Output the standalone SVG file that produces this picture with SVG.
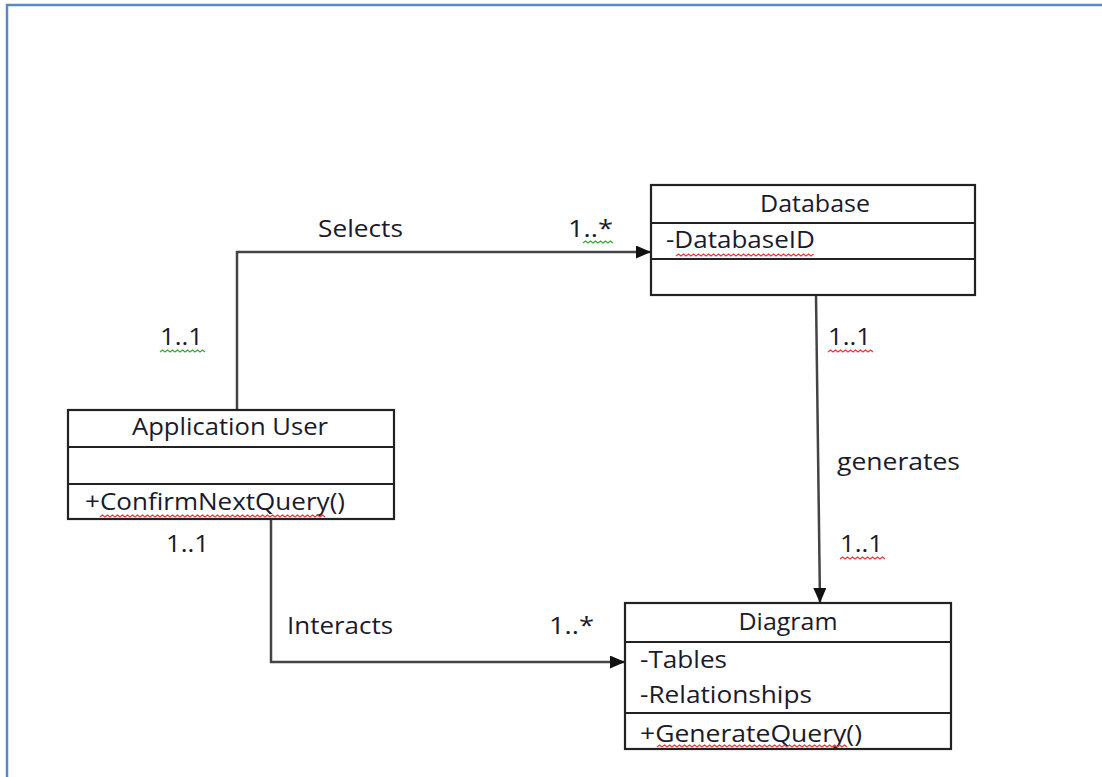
<svg xmlns="http://www.w3.org/2000/svg" width="1102" height="777" viewBox="0 0 1102 777">
<style>
.box{fill:#fff;stroke:#222;stroke-width:2.2}
.sep{stroke:#222;stroke-width:2.2}
.t{font-family:"Open Sans","Liberation Sans",sans-serif;font-size:23px;fill:#1a1a2a}
.c{text-anchor:middle}
.edge{fill:none;stroke:#444;stroke-width:2.5}
.sqr{fill:none;stroke:#e33;stroke-width:1.2}
.sqg{fill:none;stroke:#3a3;stroke-width:1.2}
</style>
<defs>
<marker id="arr" viewBox="0 0 15 13" refX="15" refY="6.5" markerWidth="15" markerHeight="13" markerUnits="userSpaceOnUse" orient="auto">
<path d="M0,0 L15,6.5 L0,13 Z" fill="#111"/>
</marker>
</defs>
<rect width="1102" height="777" fill="#fff"/>
<path d="M7,777 L7,5 L1102,5" fill="none" stroke="#5b87c5" stroke-width="2.5"/>

<g id="connectors">
<g id="selects">
<path class="edge" d="M237,410 L237,252 L651,252" marker-end="url(#arr)"/>
<text class="t" x="318" y="237" textLength="85" lengthAdjust="spacingAndGlyphs">Selects</text>
<text class="t" x="568" y="237" textLength="45" lengthAdjust="spacingAndGlyphs">1..*</text>
<path class="sqg" d="M583,243 l2.5,-2 l2.5,2 l2.5,-2 l2.5,2 l2.5,-2 l2.5,2 l2.5,-2 l2.5,2 l2.5,-2 l2.5,2 l2.5,-2 l2.5,2"/>
<text class="t" x="160" y="345" textLength="43" lengthAdjust="spacingAndGlyphs">1..1</text>
<path class="sqg" d="M160,352 l2.5,-2 l2.5,2 l2.5,-2 l2.5,2 l2.5,-2 l2.5,2 l2.5,-2 l2.5,2 l2.5,-2 l2.5,2 l2.5,-2 l2.5,2 l2.5,-2 l2.5,2 l2.5,-2 l2.5,2 l2.5,-2 l2.5,2"/>
</g>
<g id="generates">
<path class="edge" d="M816,295 L820,603" marker-end="url(#arr)"/>
<text class="t" x="828" y="345" textLength="43" lengthAdjust="spacingAndGlyphs">1..1</text>
<path class="sqr" d="M828,352 l2.5,-2 l2.5,2 l2.5,-2 l2.5,2 l2.5,-2 l2.5,2 l2.5,-2 l2.5,2 l2.5,-2 l2.5,2 l2.5,-2 l2.5,2 l2.5,-2 l2.5,2 l2.5,-2 l2.5,2 l2.5,-2 l2.5,2"/>
<text class="t" x="837" y="470" textLength="123" lengthAdjust="spacingAndGlyphs">generates</text>
<text class="t" x="840" y="552" textLength="43" lengthAdjust="spacingAndGlyphs">1..1</text>
<path class="sqr" d="M840,559 l2.5,-2 l2.5,2 l2.5,-2 l2.5,2 l2.5,-2 l2.5,2 l2.5,-2 l2.5,2 l2.5,-2 l2.5,2 l2.5,-2 l2.5,2 l2.5,-2 l2.5,2 l2.5,-2 l2.5,2 l2.5,-2 l2.5,2"/>
</g>
<g id="interacts">
<path class="edge" d="M271,519 L271,662 L625,662" marker-end="url(#arr)"/>
<text class="t" x="166" y="552" textLength="43" lengthAdjust="spacingAndGlyphs">1..1</text>
<text class="t" x="287" y="634" textLength="106" lengthAdjust="spacingAndGlyphs">Interacts</text>
<text class="t" x="549" y="634" textLength="45" lengthAdjust="spacingAndGlyphs">1..*</text>
</g>
</g>

<g id="database">
<rect class="box" x="651" y="185" width="324" height="110"/>
<line class="sep" x1="651" y1="223" x2="975" y2="223"/>
<line class="sep" x1="651" y1="259" x2="975" y2="259"/>
<text class="t c" x="815" y="212" textLength="110" lengthAdjust="spacingAndGlyphs">Database</text>
<text class="t" x="666" y="248" textLength="149" lengthAdjust="spacingAndGlyphs">-DatabaseID</text>
<path class="sqr" d="M676,256 l2.5,-2 l2.5,2 l2.5,-2 l2.5,2 l2.5,-2 l2.5,2 l2.5,-2 l2.5,2 l2.5,-2 l2.5,2 l2.5,-2 l2.5,2 l2.5,-2 l2.5,2 l2.5,-2 l2.5,2 l2.5,-2 l2.5,2 l2.5,-2 l2.5,2 l2.5,-2 l2.5,2 l2.5,-2 l2.5,2 l2.5,-2 l2.5,2 l2.5,-2 l2.5,2 l2.5,-2 l2.5,2 l2.5,-2 l2.5,2 l2.5,-2 l2.5,2 l2.5,-2 l2.5,2 l2.5,-2 l2.5,2 l2.5,-2 l2.5,2 l2.5,-2 l2.5,2 l2.5,-2 l2.5,2 l2.5,-2 l2.5,2 l2.5,-2 l2.5,2 l2.5,-2 l2.5,2 l2.5,-2 l2.5,2 l2.5,-2 l2.5,2 l2.5,-2"/>
</g>

<g id="application-user">
<rect class="box" x="68" y="410" width="326" height="109"/>
<line class="sep" x1="68" y1="447" x2="394" y2="447"/>
<line class="sep" x1="68" y1="484" x2="394" y2="484"/>
<text class="t c" x="230" y="435" textLength="196" lengthAdjust="spacingAndGlyphs">Application User</text>
<text class="t" x="85" y="510" textLength="260" lengthAdjust="spacingAndGlyphs">+ConfirmNextQuery()</text>
<path class="sqr" d="M100,517 l2.5,-2 l2.5,2 l2.5,-2 l2.5,2 l2.5,-2 l2.5,2 l2.5,-2 l2.5,2 l2.5,-2 l2.5,2 l2.5,-2 l2.5,2 l2.5,-2 l2.5,2 l2.5,-2 l2.5,2 l2.5,-2 l2.5,2 l2.5,-2 l2.5,2 l2.5,-2 l2.5,2 l2.5,-2 l2.5,2 l2.5,-2 l2.5,2 l2.5,-2 l2.5,2 l2.5,-2 l2.5,2 l2.5,-2 l2.5,2 l2.5,-2 l2.5,2 l2.5,-2 l2.5,2 l2.5,-2 l2.5,2 l2.5,-2 l2.5,2 l2.5,-2 l2.5,2 l2.5,-2 l2.5,2 l2.5,-2 l2.5,2 l2.5,-2 l2.5,2 l2.5,-2 l2.5,2 l2.5,-2 l2.5,2 l2.5,-2 l2.5,2 l2.5,-2 l2.5,2 l2.5,-2 l2.5,2 l2.5,-2 l2.5,2 l2.5,-2 l2.5,2 l2.5,-2 l2.5,2 l2.5,-2 l2.5,2 l2.5,-2 l2.5,2 l2.5,-2 l2.5,2 l2.5,-2 l2.5,2 l2.5,-2 l2.5,2 l2.5,-2 l2.5,2 l2.5,-2 l2.5,2 l2.5,-2 l2.5,2 l2.5,-2 l2.5,2 l2.5,-2 l2.5,2 l2.5,-2 l2.5,2 l2.5,-2 l2.5,2 l2.5,-2 l2.5,2"/>
</g>

<g id="diagram">
<rect class="box" x="625" y="603" width="326" height="146"/>
<line class="sep" x1="625" y1="642" x2="951" y2="642"/>
<line class="sep" x1="625" y1="713" x2="951" y2="713"/>
<text class="t c" x="788" y="630" textLength="99" lengthAdjust="spacingAndGlyphs">Diagram</text>
<text class="t" x="640" y="668" textLength="87" lengthAdjust="spacingAndGlyphs">-Tables</text>
<text class="t" x="640" y="703" textLength="172" lengthAdjust="spacingAndGlyphs">-Relationships</text>
<text class="t" x="640" y="742" textLength="222" lengthAdjust="spacingAndGlyphs">+GenerateQuery()</text>
<path class="sqr" d="M657,747 l2.5,-2 l2.5,2 l2.5,-2 l2.5,2 l2.5,-2 l2.5,2 l2.5,-2 l2.5,2 l2.5,-2 l2.5,2 l2.5,-2 l2.5,2 l2.5,-2 l2.5,2 l2.5,-2 l2.5,2 l2.5,-2 l2.5,2 l2.5,-2 l2.5,2 l2.5,-2 l2.5,2 l2.5,-2 l2.5,2 l2.5,-2 l2.5,2 l2.5,-2 l2.5,2 l2.5,-2 l2.5,2 l2.5,-2 l2.5,2 l2.5,-2 l2.5,2 l2.5,-2 l2.5,2 l2.5,-2 l2.5,2 l2.5,-2 l2.5,2 l2.5,-2 l2.5,2 l2.5,-2 l2.5,2 l2.5,-2 l2.5,2 l2.5,-2 l2.5,2 l2.5,-2 l2.5,2 l2.5,-2 l2.5,2 l2.5,-2 l2.5,2 l2.5,-2 l2.5,2 l2.5,-2 l2.5,2 l2.5,-2 l2.5,2 l2.5,-2 l2.5,2 l2.5,-2 l2.5,2 l2.5,-2 l2.5,2 l2.5,-2 l2.5,2 l2.5,-2 l2.5,2 l2.5,-2 l2.5,2 l2.5,-2 l2.5,2 l2.5,-2 l2.5,2"/>
</g>
</svg>
